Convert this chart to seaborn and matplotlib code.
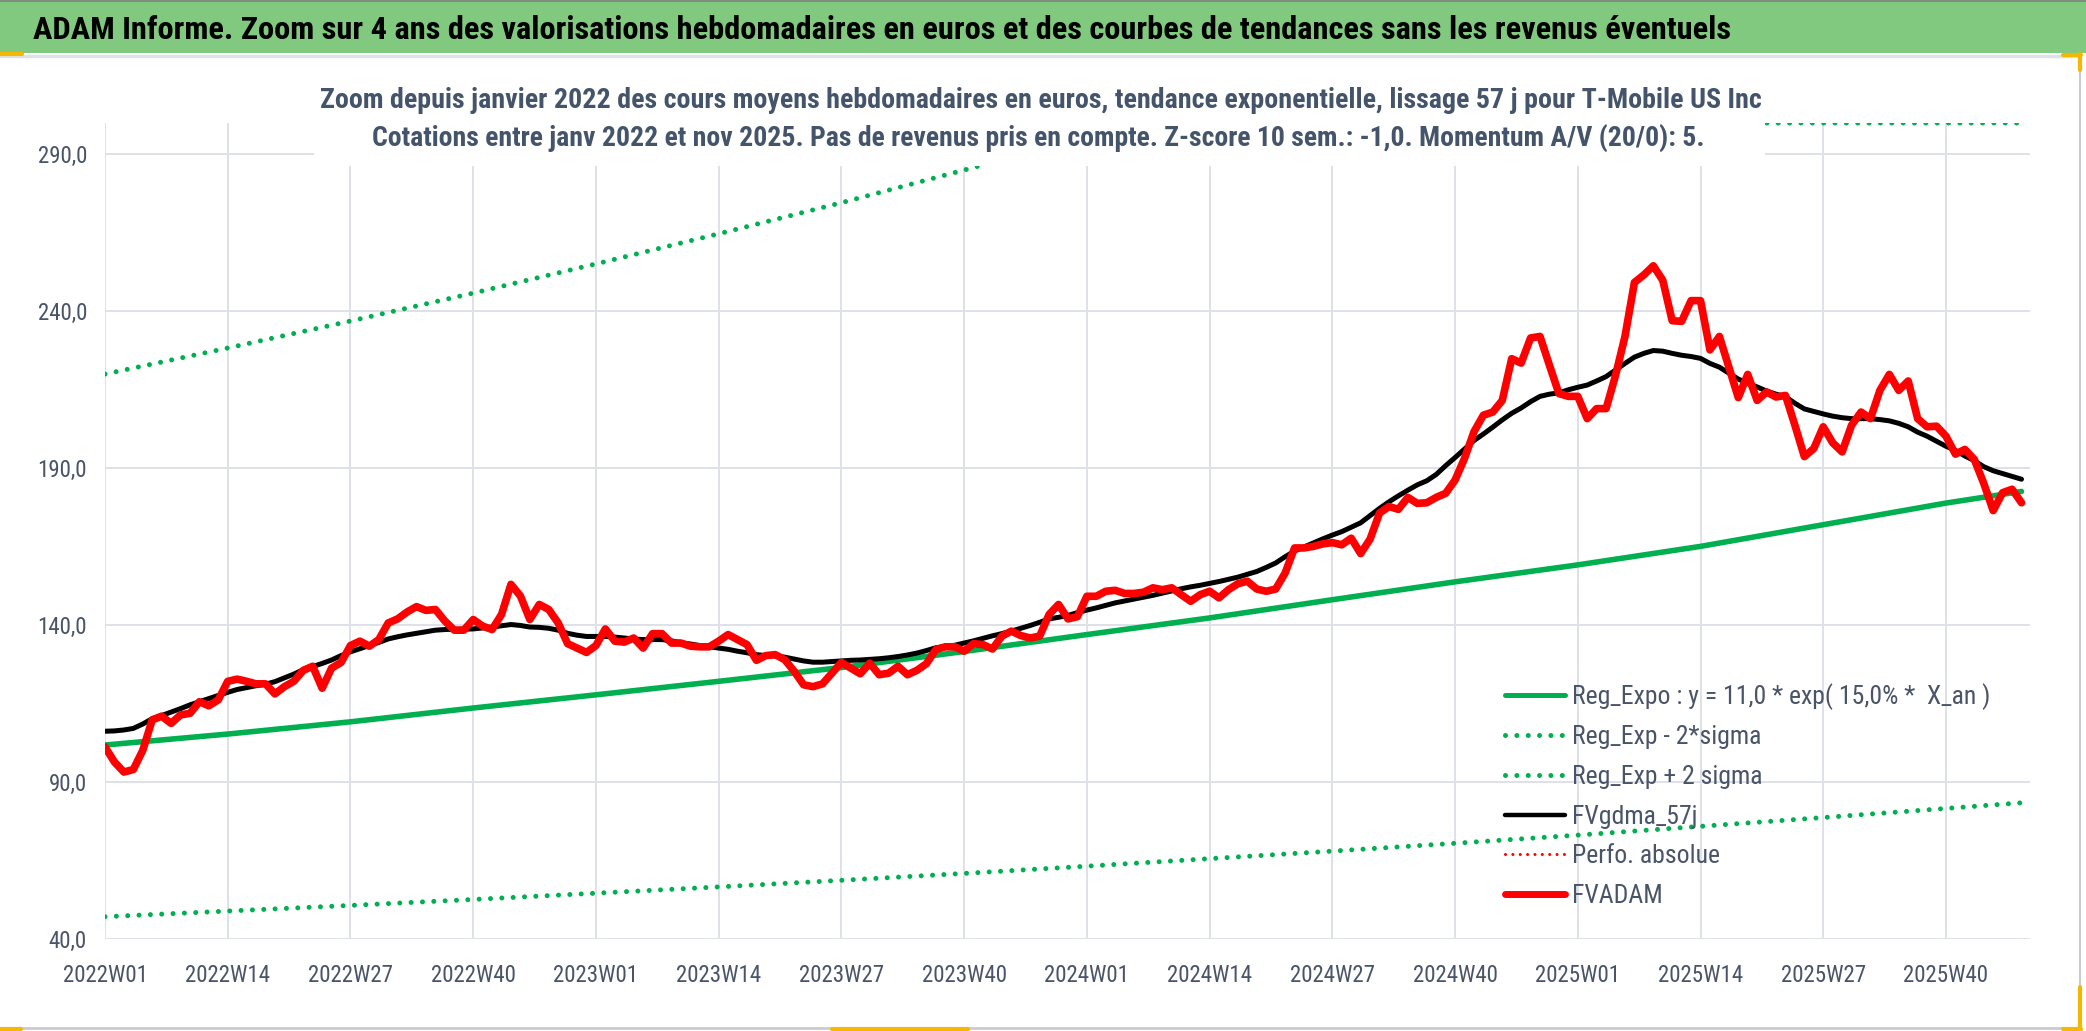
import os
import matplotlib
matplotlib.use("Agg")
import matplotlib.pyplot as plt
import seaborn as sns
import numpy as np
import pandas as pd
from matplotlib import font_manager
from matplotlib.font_manager import FontProperties
from matplotlib.patches import Rectangle
from matplotlib.lines import Line2D

# weekly categories, 2022W01 .. 2025W48
weeks = [f"{y}W{w:02d}" for y in (2022, 2023, 2024) for w in range(1, 53)] + \
        [f"2025W{w:02d}" for w in range(1, 49)]

# FVADAM weekly values
fvadam = [
    101.2, 96.4, 93.2, 94.0, 100.1, 109.8, 111.0, 108.7, 111.4, 111.9,
    115.6, 114.3, 116.2, 122.1, 122.8, 122.1, 121.3, 121.3, 118.1, 120.4,
    122.1, 125.6, 126.9, 119.9, 126.3, 128.1, 133.5, 134.9, 133.3, 135.4,
    140.7, 142.0, 144.2, 145.9, 144.7, 145.0, 141.3, 138.4, 138.4, 141.8,
    139.7, 138.6, 143.4, 153.0, 149.3, 141.8, 146.6, 145.0, 140.7, 134.1,
    132.7, 131.3, 133.5, 138.8, 134.9, 134.6, 135.9, 132.7, 137.3, 137.3,
    134.3, 134.3, 133.3, 133.1, 133.1, 134.9, 137.0, 135.4, 133.8, 128.8,
    130.3, 130.6, 129.0, 125.3, 121.0, 120.4, 121.3, 124.7, 128.1, 126.3,
    124.5, 127.9, 124.2, 124.7, 126.9, 124.2, 125.6, 127.7, 132.2, 133.1,
    133.1, 131.7, 134.1, 133.8, 132.4, 136.5, 138.1, 136.7, 135.9, 136.5,
    143.4, 146.6, 142.0, 142.7, 149.2, 149.2, 150.8, 151.1, 150.1, 150.1,
    150.5, 151.9, 151.3, 151.9, 149.7, 147.6, 149.7, 150.8, 148.7, 151.3,
    153.2, 154.0, 151.5, 150.8, 151.5, 156.6, 164.6, 164.6, 165.1, 165.9,
    166.3, 165.6, 167.7, 162.8, 167.4, 175.7, 177.8, 176.9, 180.7, 178.8,
    179.0, 180.7, 182.0, 186.2, 193.1, 201.6, 206.9, 207.9, 211.6, 224.9,
    223.5, 231.5, 232.0, 222.8, 213.8, 212.9, 212.9, 205.8, 209.0, 209.0,
    219.6, 232.0, 249.2, 251.6, 254.5, 249.9, 237.0, 236.8, 243.4, 243.4,
    227.7, 232.0, 222.2, 212.5, 219.9, 211.6, 214.3, 212.7, 213.2, 203.7,
    193.7, 196.3, 203.2, 198.1, 195.2, 203.7, 207.9, 205.8, 214.8, 219.9,
    214.8, 217.8, 205.8, 203.2, 203.4, 200.2, 194.5, 196.0, 192.8, 185.2,
    176.5, 182.2, 183.3, 179.0,
]

# FVgdma_57j weekly values
fvgdma = [
    106.2, 106.3, 106.6, 107.1, 108.5, 110.2, 111.2, 112.3, 113.4, 114.6,
    115.6, 116.6, 117.6, 118.6, 119.5, 120.1, 120.7, 121.2, 122.0, 123.2,
    124.4, 125.8, 126.8, 127.8, 128.9, 130.3, 131.5, 132.5, 133.5, 134.5,
    135.6, 136.3, 136.9, 137.4, 137.9, 138.4, 138.6, 138.7, 138.7, 138.8,
    139.1, 139.4, 139.8, 140.2, 139.9, 139.4, 139.3, 139.0, 138.4, 137.4,
    136.8, 136.4, 136.4, 136.4, 136.2, 135.9, 135.6, 135.4, 135.4, 135.4,
    135.0, 134.4, 134.0, 133.5, 133.1, 132.7, 132.3, 131.7, 131.2, 130.6,
    130.3, 130.2, 129.8, 129.2, 128.6, 128.2, 128.2, 128.4, 128.6, 128.8,
    128.9, 129.1, 129.3, 129.6, 130.0, 130.5, 131.1, 131.9, 132.8, 133.2,
    133.6, 134.3, 135.0, 135.8, 136.6, 137.3, 138.1, 139.0, 139.9, 140.9,
    142.0, 142.5, 143.1, 144.0, 144.8, 145.5, 146.3, 147.1, 147.7, 148.3,
    148.9, 149.5, 150.2, 150.9, 151.6, 152.2, 152.7, 153.3, 153.9, 154.6,
    155.3, 156.2, 157.1, 158.4, 159.8, 161.8, 163.6, 164.9, 166.2, 167.5,
    168.7, 169.8, 171.2, 172.6, 174.9, 177.2, 179.3, 181.2, 183.0, 184.7,
    186.0, 188.0, 190.8, 193.4, 196.1, 198.8, 200.9, 203.1, 205.4, 207.5,
    209.2, 211.2, 212.9, 213.6, 214.0, 215.0, 215.8, 216.5, 217.8, 219.2,
    221.3, 223.4, 225.4, 226.6, 227.5, 227.3, 226.6, 226.0, 225.6, 225.0,
    223.4, 222.2, 220.3, 218.4, 217.1, 215.9, 214.6, 213.6, 212.8, 210.7,
    208.9, 208.1, 207.3, 206.6, 206.1, 205.8, 205.8, 205.8, 205.5, 205.1,
    204.3, 203.2, 201.5, 200.2, 198.6, 197.0, 195.7, 193.9, 192.4, 190.5,
    189.2, 188.3, 187.4, 186.5,
]

# regression curves, read every 13 weeks
reg_weeks = ["2022W01", "2022W14", "2022W27", "2022W40", "2023W01", "2023W14",
             "2023W27", "2023W40", "2024W01", "2024W14", "2024W27", "2024W40",
             "2025W01", "2025W14", "2025W27", "2025W40", "2025W48"]
reg_expo = [101.8, 105.3, 109.2, 113.6, 117.8, 122.1, 126.5, 131.6, 137.0,
            142.3, 148.1, 153.8, 159.2, 165.1, 172.0, 178.9, 182.6]
reg_low = [47.1, 48.9, 50.7, 52.6, 54.6, 56.6, 58.7, 60.9, 63.2,
           65.6, 68.0, 70.5, 73.1, 75.9, 78.7, 81.6, 83.4]
reg_high = [220.0, 228.3, 236.9, 245.8, 255.1, 264.7, 274.6, 285.0, 295.7,
            300.0, 300.0, 300.0, 300.0, 300.0, 300.0, 300.0, 300.0]

tick_labels = weeks[::13]
y_ticks = [40, 90, 140, 190, 240, 290]

title = ("ADAM Informe. Zoom sur 4 ans des valorisations hebdomadaires en euros "
         "et des courbes de tendances sans les revenus éventuels")
sub1 = ("Zoom depuis janvier 2022 des cours moyens hebdomadaires en euros, "
        "tendance exponentielle, lissage 57 j pour T-Mobile US Inc")
sub2 = ("Cotations entre janv 2022 et nov 2025. Pas de revenus pris en compte. "
        "Z-score 10 sem.: -1,0. Momentum A/V (20/0): 5.")
labels = ["Reg_Expo : y = 11,0 * exp( 15,0% *  X_an )", "Reg_Exp - 2*sigma",
          "Reg_Exp + 2 sigma", "FVgdma_57j", "Perfo. absolue", "FVADAM"]

df = pd.DataFrame({"week": weeks, "pos": np.arange(len(weeks)),
                   "fvadam": fvadam, "fvgdma": fvgdma})
reg = pd.DataFrame({"week": reg_weeks, "expo": reg_expo,
                    "low": reg_low, "high": reg_high})
reg["pos"] = reg["week"].map({w: i for i, w in enumerate(weeks)})

sns.set_style("white")
plt.rcParams["font.family"] = ["DejaVu Sans"]

# look for a narrow face (the chart uses a condensed sans)
by_name = {os.path.basename(f.fname).lower(): f.fname
           for f in font_manager.fontManager.ttflist}

def pick(names):
    for n in names:
        if n.lower() in by_name:
            return FontProperties(fname=by_name[n.lower()])
    return None

fp_reg = pick(["LiberationSansNarrow-Regular.ttf", "NotoSans-Condensed.ttf",
               "RobotoCondensed-Regular.ttf", "OpenSans_Condensed-Regular.ttf",
               "OpenSans-CondLight.ttf", "DejaVuSansCondensed.ttf",
               "NotoSans-SemiCondensed.ttf"])
fp_bold = pick(["LiberationSansNarrow-Bold.ttf", "NotoSans-CondensedBold.ttf",
                "RobotoCondensed-Bold.ttf", "OpenSans_Condensed-Bold.ttf",
                "OpenSans-CondBold.ttf", "DejaVuSansCondensed-Bold.ttf",
                "NotoSans-SemiCondensedBold.ttf"])
if fp_reg is None:
    fp_reg = FontProperties(family="DejaVu Sans", stretch="condensed")
if fp_bold is None:
    fp_bold = FontProperties(family="DejaVu Sans", stretch="condensed", weight="bold")

W, H = 2086, 1031
fig = plt.figure(figsize=(W / 100, H / 100), dpi=100)
fig.patch.set_facecolor("white")
r = fig.canvas.get_renderer()

def fx(px):
    return px / W

def fy(py):
    return 1 - py / H

def size_for(text, fp, target, start=20.0):
    p = fp.copy()
    p.set_size(start)
    w, _, _ = r.get_text_width_height_descent(text, p, ismath=False)
    return start * target / w

def size_for_h(glyph, fp, target, start=20.0):
    p = fp.copy()
    p.set_size(start)
    _, h, d = r.get_text_width_height_descent(glyph, p, ismath=False)
    return start * target / (h - d)

grid_c = "#DEE2E8"
txt_c = "#4A5468"
green = "#00B050"

ax = fig.add_axes([fx(105), fy(939), fx(2030) - fx(105), fy(123) - fy(939)])
ax.set_facecolor("white")

dots = (0, (0.01, 2.26))
sns.lineplot(data=reg, x="pos", y="expo", ax=ax, color=green, linewidth=4.0,
             zorder=2, legend=False)
sns.lineplot(data=reg, x="pos", y="low", ax=ax, color=green, linewidth=3.6,
             linestyle=dots, dash_capstyle="round", zorder=2, legend=False)
sns.lineplot(data=reg, x="pos", y="high", ax=ax, color=green, linewidth=3.6,
             linestyle=dots, dash_capstyle="round", zorder=2, legend=False)
sns.lineplot(data=df, x="pos", y="fvgdma", ax=ax, color="black", linewidth=3.6,
             zorder=3, legend=False)
sns.lineplot(data=df, x="pos", y="fvadam", ax=ax, color="#FF0000", linewidth=5.5,
             solid_joinstyle="round", solid_capstyle="round", zorder=4, legend=False)

ax.set_xlim(0, 203.9)
ax.set_ylim(40, 300)
ax.set_xticks(df["pos"].iloc[::13])
ax.set_xticklabels(tick_labels)
ax.set_yticks(y_ticks)
ax.set_yticklabels([f"{v:.1f}".replace(".", ",") for v in y_ticks])
ax.set_xlabel("")
ax.set_ylabel("")
ax.grid(True, color=grid_c, linewidth=1.4)
ax.set_axisbelow(True)
for s in ax.spines.values():
    s.set_visible(False)
ax.tick_params(axis="x", length=8, width=1.4, color=grid_c, pad=10, labelcolor=txt_c)
ax.tick_params(axis="y", length=0, pad=13, labelcolor=txt_c)

xt_fp = fp_reg.copy()
xt_fp.set_size(size_for_h("0", fp_reg, 16.5))
yt_fp = fp_reg.copy()
yt_fp.set_size(size_for_h("0", fp_reg, 16.5))
for lbl in ax.get_xticklabels():
    lbl.set_fontproperties(xt_fp)
for lbl in ax.get_yticklabels():
    lbl.set_fontproperties(yt_fp)

leg_fp = fp_reg.copy()
leg_fp.set_size(max(size_for_h("R", fp_reg, 18), size_for(labels[0], fp_reg, 420)))
em = leg_fp.get_size() * 100 / 72
_, row_h, _ = r.get_text_width_height_descent("lp", leg_fp, ismath=False)
handles = [
    Line2D([], [], color=green, lw=3.6, solid_capstyle="round"),
    Line2D([], [], color=green, lw=3.6, ls=dots, dash_capstyle="round"),
    Line2D([], [], color=green, lw=3.6, ls=dots, dash_capstyle="round"),
    Line2D([], [], color="black", lw=3.2, solid_capstyle="round"),
    Line2D([], [], color="#FF0000", lw=2.2, ls=(0, (0.01, 2.4)), dash_capstyle="round"),
    Line2D([], [], color="#FF0000", lw=5.0, solid_capstyle="round"),
]
ax.legend(handles, labels, loc="upper left",
          bbox_to_anchor=(fx(1505), fy(695 - row_h / 2)), bbox_transform=fig.transFigure,
          frameon=False, prop=leg_fp, labelcolor=txt_c,
          handlelength=60 / em, handletextpad=7 / em,
          labelspacing=(39.6 - row_h) / em, borderpad=0, borderaxespad=0)

# title band
fig.add_artist(Rectangle((0, fy(53)), 1, fy(0) - fy(53), transform=fig.transFigure,
                         facecolor="#80C97E", edgecolor="none", zorder=1))
fig.add_artist(Line2D([0, 1], [fy(1), fy(1)], transform=fig.transFigure,
                      color="#7F8F7F", lw=1.5, zorder=2))
fig.add_artist(Line2D([0, fx(2080)], [fy(56), fy(56)], transform=fig.transFigure,
                      color=grid_c, lw=2.5, zorder=2))
fig.add_artist(Line2D([fx(2080), fx(2080)], [fy(56), fy(1028)], transform=fig.transFigure,
                      color="#C8CCD2", lw=1.5, zorder=2))
fig.add_artist(Line2D([0, fx(2080)], [fy(1028), fy(1028)], transform=fig.transFigure,
                      color="#C8CCD2", lw=2.0, zorder=2))

# selection handles
hc = "#F4B800"
for xs, ys in [([0, 22], [54, 54]), ([2063, 2081], [55, 55]), ([2080, 2080], [54, 70]),
               ([0, 21], [1029, 1029]), ([832, 968], [1029, 1029]),
               ([2063, 2081], [1029, 1029]), ([2080, 2080], [987, 1030])]:
    fig.add_artist(Line2D([fx(v) for v in xs], [fy(v) for v in ys],
                          transform=fig.transFigure, color=hc, lw=3, zorder=3))

# subtitle box over the plot area
fig.add_artist(Rectangle((fx(314), fy(166)), fx(1765) - fx(314), fy(72) - fy(166),
                         transform=fig.transFigure, facecolor="white",
                         edgecolor="none", zorder=2))

fig.text(fx(33), fy(30), title, ha="left", va="center",
         fontproperties=fp_bold, fontsize=size_for(title, fp_bold, 1697),
         color="black", zorder=4)
fig.text(fx(1041), fy(100), sub1, ha="center", va="center",
         fontproperties=fp_bold, fontsize=size_for(sub1, fp_bold, 1437),
         color="#44546A", zorder=4)
fig.text(fx(1038), fy(138), sub2, ha="center", va="center",
         fontproperties=fp_bold, fontsize=size_for(sub2, fp_bold, 1330),
         color="#44546A", zorder=4)

fig.savefig("out.png", dpi=100)
